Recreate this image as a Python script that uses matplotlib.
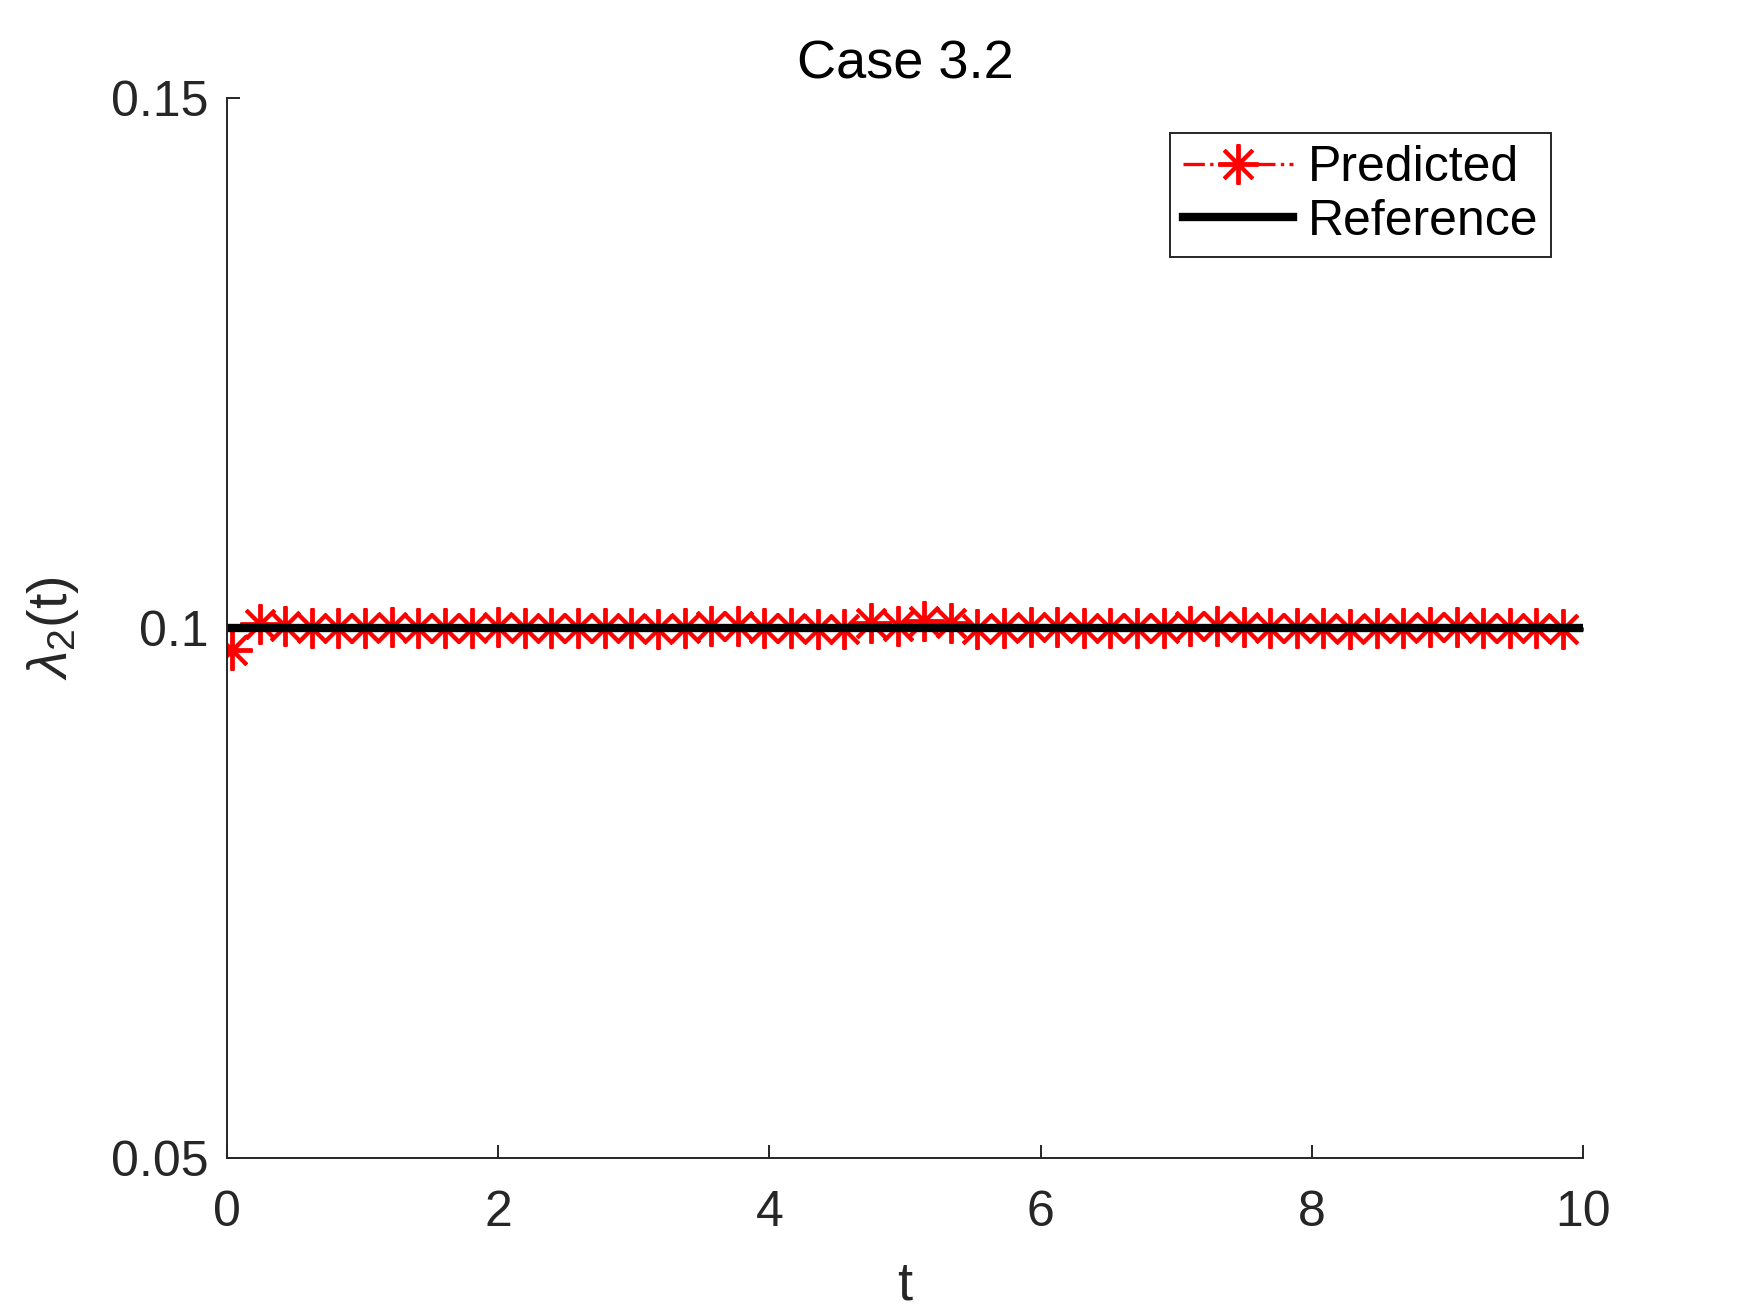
import matplotlib
matplotlib.use("Agg")
import matplotlib.pyplot as plt

plt.rcParams['font.family'] = ['Liberation Sans', 'DejaVu Sans']
plt.rcParams['mathtext.fontset'] = 'custom'
plt.rcParams['mathtext.rm'] = 'Liberation Sans'
plt.rcParams['mathtext.it'] = 'Liberation Sans:italic'

# sample times and predicted lambda_2 values
t = [0.04, 0.24, 0.43, 0.63, 0.82, 1.02, 1.22, 1.41, 1.61, 1.81,
     2.00, 2.20, 2.39, 2.59, 2.79, 2.98, 3.18, 3.38, 3.57, 3.77,
     3.96, 4.16, 4.36, 4.55, 4.75, 4.95, 5.14, 5.34, 5.53, 5.73,
     5.93, 6.12, 6.32, 6.51, 6.71, 6.91, 7.10, 7.30, 7.50, 7.69,
     7.89, 8.08, 8.28, 8.48, 8.67, 8.87, 9.07, 9.26, 9.46, 9.65, 9.85]
predicted = [0.0979, 0.1004, 0.1002, 0.09995, 0.1000, 0.1000, 0.10005, 0.1000, 0.10003, 0.1000,
             0.10005, 0.1000, 0.09995, 0.10003, 0.1000, 0.09995, 0.0999, 0.1000, 0.1002, 0.1002,
             0.1000, 0.09995, 0.0999, 0.0999, 0.1005, 0.10015, 0.1007, 0.1005, 0.0999, 0.1000,
             0.10005, 0.1001, 0.1000, 0.09995, 0.1000, 0.1000, 0.1002, 0.1002, 0.1001, 0.10003,
             0.10002, 0.09995, 0.0999, 0.09995, 0.10002, 0.1001, 0.1001, 0.10002, 0.09995, 0.09995, 0.0999]
ref_t = [0, 10]
ref_val = [0.1, 0.1]

fig = plt.figure(figsize=(17.5, 13.13), dpi=100)
ax = fig.add_axes([0.1297, 0.1181, 0.7749, 0.8073])

ax.plot(t, predicted, color='red', linestyle='-.', linewidth=2.4,
        marker=(8, 2, 0), markersize=29, markeredgewidth=2.8, label='Predicted')
ax.plot(ref_t, ref_val, color='black', linewidth=6, label='Reference')

ax.set_xlim(0, 10)
ax.set_ylim(0.05, 0.15)
ax.set_xticks([0, 2, 4, 6, 8, 10])
ax.set_yticks([0.05, 0.1, 0.15])
ax.set_yticklabels(['0.05', '0.1', '0.15'])

axcol = '#262626'
for side in ['top', 'right']:
    ax.spines[side].set_visible(False)
for side in ['left', 'bottom']:
    ax.spines[side].set_color(axcol)
    ax.spines[side].set_linewidth(1.4)
ax.tick_params(direction='in', length=9.5, width=1.4, color=axcol,
               labelcolor=axcol, labelsize=36)
ax.tick_params(axis='x', pad=23)
ax.tick_params(axis='y', pad=13)

ax.set_title('Case 3.2', fontsize=39, pad=14, color='black')
ax.set_xlabel('t', fontsize=39, color=axcol, labelpad=18)
ax.set_ylabel(r'$\lambda_2$(t)', fontsize=40, color=axcol, labelpad=22)

leg = ax.legend(loc='upper right', bbox_to_anchor=(0.976, 0.967), fontsize=36,
                fancybox=False, edgecolor=axcol, framealpha=1,
                handlelength=2.2, handletextpad=0.3, borderpad=0.25,
                labelspacing=0.15, borderaxespad=0)
leg.get_frame().set_linewidth(1.4)

fig.savefig('out.png', dpi=100)
